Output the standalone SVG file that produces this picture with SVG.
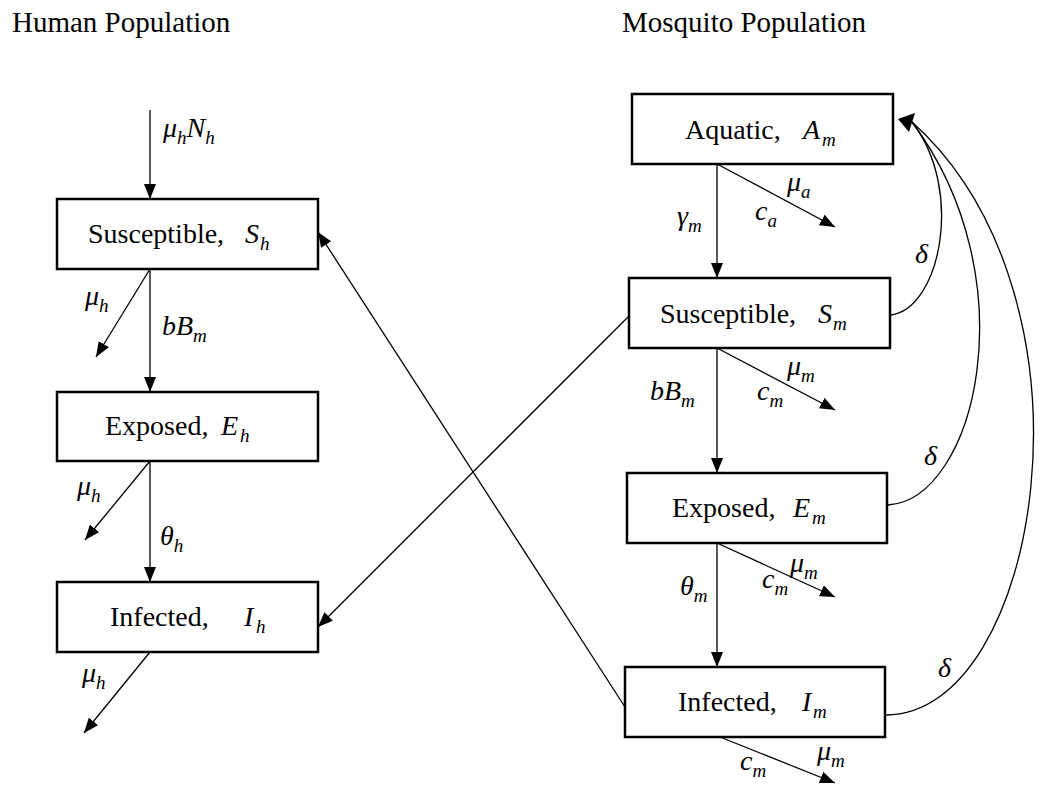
<svg xmlns="http://www.w3.org/2000/svg" width="1041" height="785" viewBox="0 0 1041 785">
<defs>
<style>
.box{fill:#fff;stroke:#000;stroke-width:2.5}
.ln{fill:none;stroke:#000;stroke-width:1.3}
.t{font-family:"Liberation Serif","Times New Roman",serif;font-size:28px;fill:#000}
.h{font-family:"Liberation Serif","Times New Roman",serif;font-size:29px;fill:#000}
.m{font-family:"Liberation Serif","Times New Roman",serif;font-size:28px;font-style:italic;fill:#000}
.s{font-size:19px;font-style:italic}
</style>
<marker id="ah" markerUnits="userSpaceOnUse" markerWidth="15" markerHeight="12" refX="15" refY="6" orient="auto">
<path d="M0,0 L15,6 L0,12 z" fill="#000"/>
</marker>
</defs>
<rect width="1041" height="785" fill="#fff"/>
<text class="h" x="12" y="32">Human Population</text>
<text class="h" x="622" y="32">Mosquito Population</text>

<g id="connectors">
<line class="ln" x1="150" y1="110" x2="150" y2="199" marker-end="url(#ah)"/>
<line class="ln" x1="150" y1="269" x2="150" y2="392" marker-end="url(#ah)"/>
<line class="ln" x1="150" y1="461" x2="150" y2="582" marker-end="url(#ah)"/>
<line class="ln" x1="150" y1="269" x2="96" y2="357" marker-end="url(#ah)"/>
<line class="ln" x1="150" y1="461" x2="85" y2="540" marker-end="url(#ah)"/>
<line class="ln" x1="150" y1="652" x2="84" y2="733" marker-end="url(#ah)"/>
<line class="ln" x1="717" y1="164" x2="717" y2="278" marker-end="url(#ah)"/>
<line class="ln" x1="717" y1="348" x2="717" y2="473" marker-end="url(#ah)"/>
<line class="ln" x1="717" y1="543" x2="717" y2="667" marker-end="url(#ah)"/>
<line class="ln" x1="717" y1="164" x2="835" y2="227" marker-end="url(#ah)"/>
<line class="ln" x1="717" y1="348" x2="835" y2="410" marker-end="url(#ah)"/>
<line class="ln" x1="717" y1="543" x2="835" y2="597" marker-end="url(#ah)"/>
<line class="ln" x1="720" y1="737" x2="835" y2="783" marker-end="url(#ah)"/>
<line class="ln" x1="625" y1="707" x2="318" y2="232" marker-end="url(#ah)"/>
<line class="ln" x1="629" y1="316" x2="318" y2="627" marker-end="url(#ah)"/>
<path class="ln" d="M890,315 C940,310 965,190 912,122"/>
<path class="ln" d="M888,505 C975,500 1030,280 912,122"/>
<path class="ln" d="M886,715 C1040,715 1110,300 912,122"/>
<polygon points="898,119 915,113 909,132" fill="#000"/>
</g>

<g id="node-sh">
<rect class="box" x="57" y="199" width="261" height="70"/>
<text class="t" x="88" y="243">Susceptible,<tspan class="m" x="245">S</tspan><tspan class="s" x="260" y="250">h</tspan></text>
</g>
<g id="node-eh">
<rect class="box" x="57" y="392" width="261" height="69"/>
<text class="t" x="105" y="435">Exposed,<tspan class="m" x="221">E</tspan><tspan class="s" x="240" y="442">h</tspan></text>
</g>
<g id="node-ih">
<rect class="box" x="57" y="582" width="261" height="70"/>
<text class="t" x="110" y="626">Infected,<tspan class="m" x="244">I</tspan><tspan class="s" x="256" y="633">h</tspan></text>
</g>
<g id="node-am">
<rect class="box" x="632" y="94" width="261" height="70"/>
<text class="t" x="685" y="139">Aquatic,<tspan class="m" x="803">A</tspan><tspan class="s" x="822" y="146">m</tspan></text>
</g>
<g id="node-sm">
<rect class="box" x="629" y="278" width="261" height="70"/>
<text class="t" x="660" y="323">Susceptible,<tspan class="m" x="818">S</tspan><tspan class="s" x="833" y="330">m</tspan></text>
</g>
<g id="node-em">
<rect class="box" x="627" y="473" width="260" height="70"/>
<text class="t" x="672" y="517">Exposed,<tspan class="m" x="793">E</tspan><tspan class="s" x="812" y="524">m</tspan></text>
</g>
<g id="node-im">
<rect class="box" x="625" y="667" width="260" height="70"/>
<text class="t" x="678" y="711">Infected,<tspan class="m" x="802">I</tspan><tspan class="s" x="813" y="718">m</tspan></text>
</g>

<g id="labels">
<text class="m" x="163" y="137">μ<tspan class="s" dy="7">h</tspan><tspan dy="-7">N</tspan><tspan class="s" dy="7">h</tspan></text>
<text class="m" x="85" y="305">μ<tspan class="s" dy="7">h</tspan></text>
<text class="m" x="162" y="335">bB<tspan class="s" dy="7">m</tspan></text>
<text class="m" x="77" y="495">μ<tspan class="s" dy="7">h</tspan></text>
<text class="m" x="160" y="545">θ<tspan class="s" dy="7">h</tspan></text>
<text class="m" x="82" y="682">μ<tspan class="s" dy="7">h</tspan></text>
<text class="m" x="677" y="225">γ<tspan class="s" dy="7">m</tspan></text>
<text class="m" x="787" y="191">μ<tspan class="s" dy="7">a</tspan></text>
<text class="m" x="755" y="220">c<tspan class="s" dy="7">a</tspan></text>
<text class="m" x="650" y="400">bB<tspan class="s" dy="7">m</tspan></text>
<text class="m" x="787" y="375">μ<tspan class="s" dy="7">m</tspan></text>
<text class="m" x="757" y="400">c<tspan class="s" dy="7">m</tspan></text>
<text class="m" x="680" y="595">θ<tspan class="s" dy="7">m</tspan></text>
<text class="m" x="762" y="588">c<tspan class="s" dy="7">m</tspan></text>
<text class="m" x="790" y="572">μ<tspan class="s" dy="7">m</tspan></text>
<text class="m" x="740" y="770">c<tspan class="s" dy="7">m</tspan></text>
<text class="m" x="817" y="760">μ<tspan class="s" dy="7">m</tspan></text>
<text class="m" x="915" y="263">δ</text>
<text class="m" x="924" y="465">δ</text>
<text class="m" x="938" y="677">δ</text>
</g>
</svg>
